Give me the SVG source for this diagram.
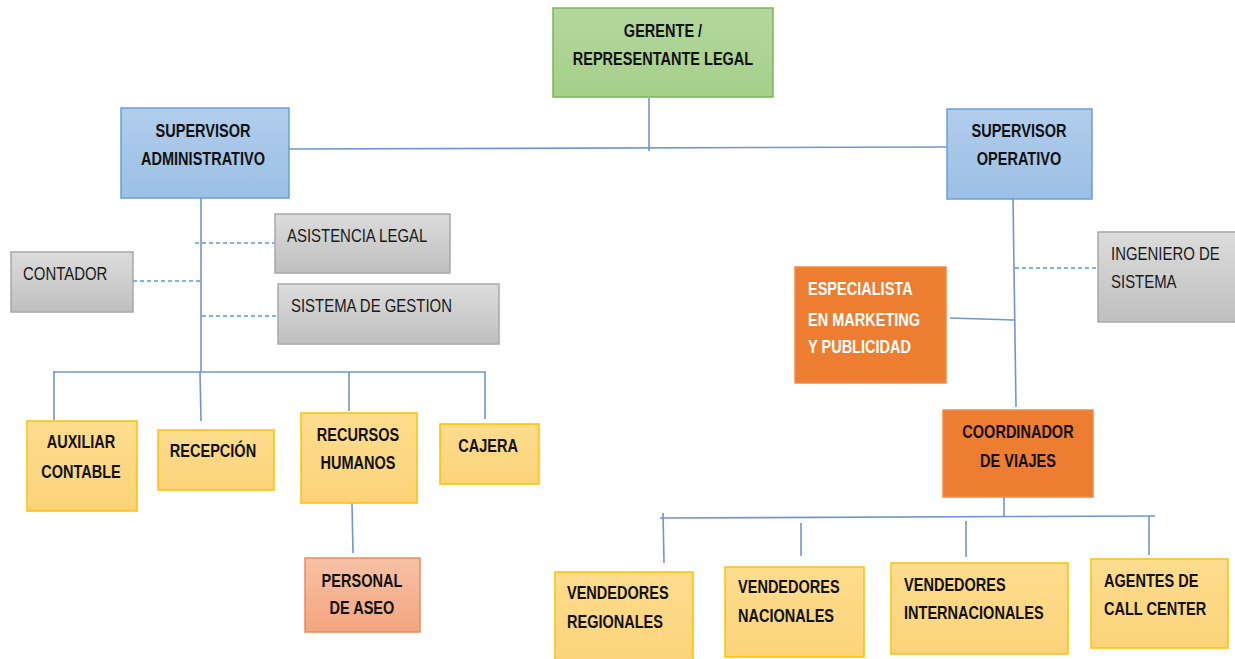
<svg xmlns="http://www.w3.org/2000/svg" width="1235" height="659" viewBox="0 0 1235 659">
<defs>
<linearGradient id="gGreen" x1="0" y1="0" x2="0" y2="1"><stop offset="0" stop-color="#b4d89d"/><stop offset="1" stop-color="#a5cf89"/></linearGradient>
<linearGradient id="gBlue" x1="0" y1="0" x2="0" y2="1"><stop offset="0" stop-color="#b1cdeb"/><stop offset="1" stop-color="#9bc0e5"/></linearGradient>
<linearGradient id="gYellow" x1="0" y1="0" x2="0" y2="1"><stop offset="0" stop-color="#fedd8e"/><stop offset="1" stop-color="#fcd37a"/></linearGradient>
<linearGradient id="gGray" x1="0" y1="0" x2="0" y2="1"><stop offset="0" stop-color="#dcdcdc"/><stop offset="1" stop-color="#bfbfbf"/></linearGradient>
<linearGradient id="gSalmon" x1="0" y1="0" x2="0" y2="1"><stop offset="0" stop-color="#f7c2a5"/><stop offset="1" stop-color="#f3a57f"/></linearGradient>
</defs>
<style>
.green{fill:url(#gGreen);stroke:#7cb45a;stroke-width:1.5}
.blue{fill:url(#gBlue);stroke:#6a9fd8;stroke-width:1.5}
.yellow{fill:url(#gYellow);stroke:#ffc000;stroke-width:1.5}
.gray{fill:url(#gGray);stroke:#a8a8a8;stroke-width:1.5}
.orange{fill:#ed7d31;stroke:#f08a45;stroke-width:1.5}
.salmon{fill:url(#gSalmon);stroke:#ee8a55;stroke-width:1.5}
text{font-family:"Liberation Sans",Arial,sans-serif;font-size:17.5px;fill:#111}
.b{font-weight:bold}
.c{text-anchor:middle}
.r{font-size:18px;fill:#1a1a1a}
.w{fill:#ffffff}
.ln{stroke:#6f94d8;stroke-width:1.6;fill:none}
.dash{stroke:#5b9bd5;stroke-width:1.3;stroke-dasharray:4 3;fill:none}
</style>
<g id="connectors">
<line class="ln" x1="649" y1="98" x2="649" y2="151"/>
<line class="ln" x1="289" y1="149" x2="947" y2="147"/>
<line class="ln" x1="201" y1="198" x2="201" y2="372"/>
<line class="ln" x1="53" y1="372" x2="486" y2="372"/>
<line class="ln" x1="54" y1="372" x2="54" y2="420"/>
<line class="ln" x1="200" y1="372" x2="201" y2="421"/>
<line class="ln" x1="349" y1="372" x2="349" y2="411"/>
<line class="ln" x1="485" y1="372" x2="485" y2="419"/>
<line class="ln" x1="352" y1="503" x2="353" y2="553"/>
<line class="dash" x1="195" y1="243" x2="275" y2="243"/>
<line class="dash" x1="133" y1="281" x2="200" y2="281"/>
<line class="dash" x1="202" y1="316" x2="278" y2="316"/>
<line class="ln" x1="1013" y1="199" x2="1016" y2="407"/>
<line class="dash" x1="1015" y1="268" x2="1097" y2="268"/>
<line class="ln" x1="950" y1="318" x2="1014" y2="320"/>
<line class="ln" x1="1004" y1="497" x2="1004" y2="517"/>
<line class="ln" x1="660" y1="518" x2="1155" y2="516"/>
<line class="ln" x1="663" y1="513" x2="664" y2="563"/>
<line class="ln" x1="801" y1="523" x2="801" y2="556"/>
<line class="ln" x1="966" y1="521" x2="966" y2="557"/>
<line class="ln" x1="1149" y1="516" x2="1149" y2="555"/>
</g>
<g id="gerente"><rect class="green" x="553" y="8" width="220" height="89"/><text class="b c" transform="scale(0.83 1)" x="798.8" y="37">GERENTE /</text><text class="b c" transform="scale(0.83 1)" x="798.8" y="65">REPRESENTANTE LEGAL</text></g>
<g id="sup-admin"><rect class="blue" x="121" y="108" width="168" height="90"/><text class="b c" transform="scale(0.83 1)" x="244.6" y="137">SUPERVISOR</text><text class="b c" transform="scale(0.83 1)" x="244.6" y="165">ADMINISTRATIVO</text></g>
<g id="sup-oper"><rect class="blue" x="947" y="109" width="145" height="90"/><text class="b c" transform="scale(0.83 1)" x="1227.7" y="137">SUPERVISOR</text><text class="b c" transform="scale(0.83 1)" x="1227.7" y="165">OPERATIVO</text></g>
<g id="asistencia"><rect class="gray" x="275" y="214" width="175" height="59"/><text class="r" transform="scale(0.83 1)" x="345.8" y="242">ASISTENCIA LEGAL</text></g>
<g id="contador"><rect class="gray" x="11" y="252" width="122" height="60"/><text class="r" transform="scale(0.83 1)" x="27.7" y="280">CONTADOR</text></g>
<g id="sistema"><rect class="gray" x="278" y="284" width="221" height="60"/><text class="r" transform="scale(0.83 1)" x="350.6" y="312">SISTEMA DE GESTION</text></g>
<g id="auxiliar"><rect class="yellow" x="27" y="421" width="110" height="90"/><text class="b c" transform="scale(0.83 1)" x="97.6" y="448">AUXILIAR</text><text class="b c" transform="scale(0.83 1)" x="97.6" y="478">CONTABLE</text></g>
<g id="recepcion"><rect class="yellow" x="158" y="430" width="116" height="60"/><text class="b c" transform="scale(0.83 1)" x="256.6" y="457">RECEPCIÓN</text></g>
<g id="rrhh"><rect class="yellow" x="301" y="413" width="116" height="90"/><text class="b c" transform="scale(0.83 1)" x="431.3" y="441">RECURSOS</text><text class="b c" transform="scale(0.83 1)" x="431.3" y="469">HUMANOS</text></g>
<g id="cajera"><rect class="yellow" x="440" y="424" width="99" height="60"/><text class="b c" transform="scale(0.83 1)" x="588" y="452">CAJERA</text></g>
<g id="aseo"><rect class="salmon" x="305" y="558" width="115" height="74"/><text class="b c" transform="scale(0.83 1)" x="436.1" y="587">PERSONAL</text><text class="b c" transform="scale(0.83 1)" x="436.1" y="614">DE ASEO</text></g>
<g id="ingeniero"><rect class="gray" x="1098" y="232" width="140" height="90"/><text class="r" transform="scale(0.83 1)" x="1338.6" y="260">INGENIERO DE</text><text class="r" transform="scale(0.83 1)" x="1338.6" y="288">SISTEMA</text></g>
<g id="especialista"><rect class="orange" x="795" y="267" width="151" height="116"/><text class="b w" transform="scale(0.83 1)" x="973.5" y="295">ESPECIALISTA</text><text class="b w" transform="scale(0.83 1)" x="973.5" y="326">EN MARKETING</text><text class="b w" transform="scale(0.83 1)" x="973.5" y="353">Y PUBLICIDAD</text></g>
<g id="coordinador"><rect class="orange" x="943" y="410" width="150" height="87"/><text class="b c" transform="scale(0.83 1)" x="1226.5" y="438">COORDINADOR</text><text class="b c" transform="scale(0.83 1)" x="1226.5" y="467">DE VIAJES</text></g>
<g id="v-regionales"><rect class="yellow" x="555" y="572" width="138" height="92"/><text class="b" transform="scale(0.83 1)" x="683.1" y="599">VENDEDORES</text><text class="b" transform="scale(0.83 1)" x="683.1" y="628">REGIONALES</text></g>
<g id="v-nacionales"><rect class="yellow" x="725" y="567" width="139" height="90"/><text class="b" transform="scale(0.83 1)" x="889.2" y="593">VENDEDORES</text><text class="b" transform="scale(0.83 1)" x="889.2" y="622">NACIONALES</text></g>
<g id="v-internacionales"><rect class="yellow" x="891" y="563" width="177" height="91"/><text class="b" transform="scale(0.83 1)" x="1089.2" y="591">VENDEDORES</text><text class="b" transform="scale(0.83 1)" x="1089.2" y="619">INTERNACIONALES</text></g>
<g id="agentes"><rect class="yellow" x="1091" y="559" width="137" height="89"/><text class="b" transform="scale(0.83 1)" x="1330.1" y="587">AGENTES DE</text><text class="b" transform="scale(0.83 1)" x="1330.1" y="615">CALL CENTER</text></g>
</svg>
